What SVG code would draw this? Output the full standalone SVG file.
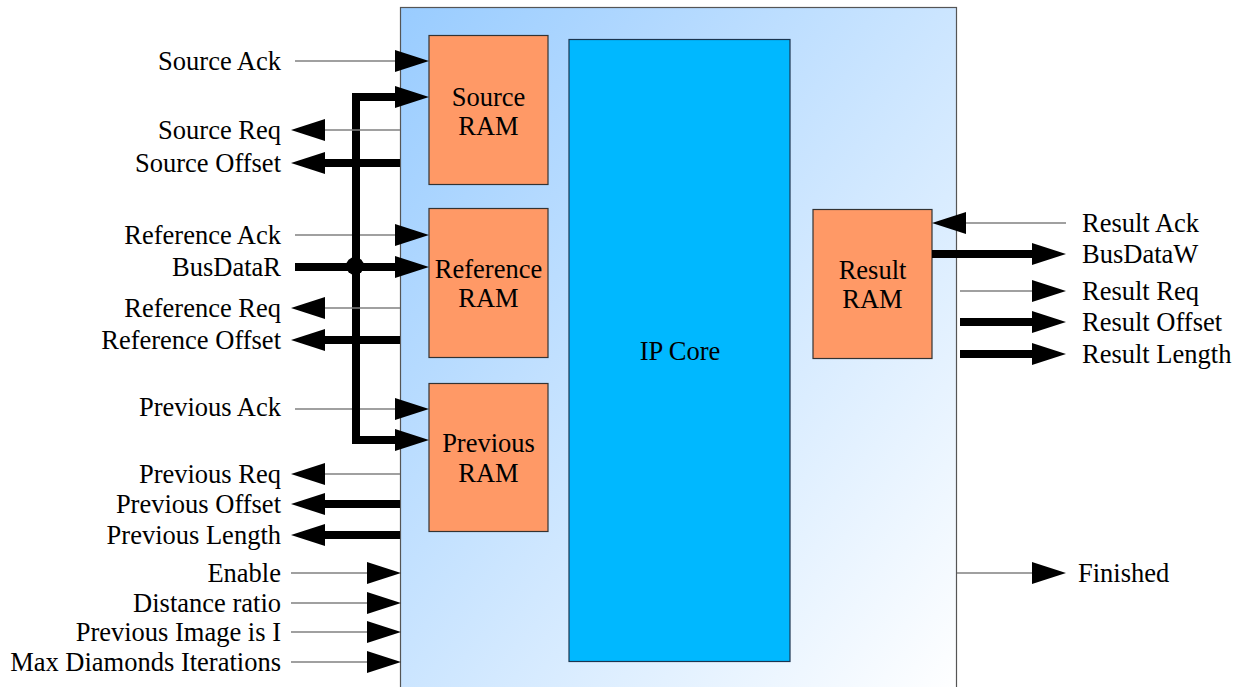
<svg xmlns="http://www.w3.org/2000/svg" width="1239" height="687" viewBox="0 0 1239 687">
  <defs>
    <linearGradient id="bg" x1="0" y1="0" x2="1" y2="1">
      <stop offset="0" stop-color="#99CCFF"/>
      <stop offset="1" stop-color="#FFFFFF"/>
    </linearGradient>
    <marker id="ah" markerUnits="userSpaceOnUse" markerWidth="34" markerHeight="24" refX="0" refY="12" orient="auto" viewBox="0 0 34 24">
      <path d="M0,1 L34,12 L0,23 Z" fill="#000"/>
    </marker>
    <style>
      .lbl { font-family: "Liberation Serif", "Times New Roman", serif; font-size: 26.5px; fill: #000; }
      .l { text-anchor: end; }
      .c { text-anchor: middle; }
      .ram { fill: #FF9966; stroke: #333; stroke-width: 1.2; }
      .thin { stroke: #808080; stroke-width: 1.5; fill: none; marker-end: url(#ah); }
      .thick { stroke: #000; stroke-width: 8; fill: none; marker-end: url(#ah); }
    </style>
  </defs>

  <rect width="1239" height="687" fill="#fff"/>

  <!-- enclosing block -->
  <g id="block">
    <rect x="400.5" y="7.5" width="556" height="690" fill="url(#bg)" stroke="#555" stroke-width="1.2"/>
  </g>

  <g id="ip-core">
    <rect x="569" y="39.5" width="221" height="622" fill="#00B8FF" stroke="#1b3550" stroke-width="1.2"/>
    <text class="lbl c" x="680" y="360">IP Core</text>
  </g>

  <g id="source-ram">
    <rect class="ram" x="429" y="35.5" width="119" height="149"/>
    <text class="lbl c" x="488.5" y="106">Source</text>
    <text class="lbl c" x="488.5" y="135">RAM</text>
  </g>

  <g id="reference-ram">
    <rect class="ram" x="429" y="208.5" width="119" height="149"/>
    <text class="lbl c" x="488.5" y="278">Reference</text>
    <text class="lbl c" x="488.5" y="307">RAM</text>
  </g>

  <g id="previous-ram">
    <rect class="ram" x="429" y="383.5" width="119" height="148"/>
    <text class="lbl c" x="488.5" y="452">Previous</text>
    <text class="lbl c" x="488.5" y="482">RAM</text>
  </g>

  <g id="result-ram">
    <rect class="ram" x="813" y="209.5" width="119" height="149"/>
    <text class="lbl c" x="872.5" y="279">Result</text>
    <text class="lbl c" x="872.5" y="308">RAM</text>
  </g>

  <!-- signal connectors -->
  <g id="connectors">
    <!-- left inputs into RAMs -->
    <path class="thin" d="M295,61 H395"/>
    <path class="thin" d="M295,235 H395"/>
    <path class="thin" d="M295,409 H395"/>
    <!-- read data bus -->
    <path class="thick" d="M295,267 H395"/>
    <path class="thick" stroke-linejoin="miter" d="M356,267 V97 H395"/>
    <path class="thick" stroke-linejoin="miter" d="M356,267 V440 H395"/>
    <circle cx="355" cy="266" r="9" fill="#000"/>
    <!-- left outputs -->
    <path class="thin" d="M400,130 H325"/>
    <path class="thick" d="M400,163 H325"/>
    <path class="thin" d="M400,308 H325"/>
    <path class="thick" d="M400,340 H325"/>
    <path class="thin" d="M400,474 H325"/>
    <path class="thick" d="M400,504 H325"/>
    <path class="thick" d="M400,535 H325"/>
    <!-- control inputs -->
    <path class="thin" d="M291,573 H367"/>
    <path class="thin" d="M291,603 H367"/>
    <path class="thin" d="M291,632 H367"/>
    <path class="thin" d="M291,662 H367"/>
    <!-- result side -->
    <path class="thin" d="M1066,223 H966"/>
    <path class="thick" d="M932,254 H1032"/>
    <path class="thin" d="M960,291 H1032"/>
    <path class="thick" d="M960,322 H1032"/>
    <path class="thick" d="M960,354 H1032"/>
    <path class="thin" d="M957,573 H1032"/>
  </g>

  <!-- signal labels -->
  <g id="labels">
    <text class="lbl l" x="281" y="70">Source Ack</text>
    <text class="lbl l" x="281" y="139">Source Req</text>
    <text class="lbl l" x="281" y="172">Source Offset</text>
    <text class="lbl l" x="281" y="244">Reference Ack</text>
    <text class="lbl l" x="281" y="276">BusDataR</text>
    <text class="lbl l" x="281" y="317">Reference Req</text>
    <text class="lbl l" x="281" y="349">Reference Offset</text>
    <text class="lbl l" x="281" y="416">Previous Ack</text>
    <text class="lbl l" x="281" y="483">Previous Req</text>
    <text class="lbl l" x="281" y="513">Previous Offset</text>
    <text class="lbl l" x="281" y="544">Previous Length</text>
    <text class="lbl l" x="281" y="582">Enable</text>
    <text class="lbl l" x="281" y="612">Distance ratio</text>
    <text class="lbl l" x="281" y="641">Previous Image is I</text>
    <text class="lbl l" x="281" y="671">Max Diamonds Iterations</text>
    <text class="lbl" x="1082" y="232">Result Ack</text>
    <text class="lbl" x="1082" y="263">BusDataW</text>
    <text class="lbl" x="1082" y="300">Result Req</text>
    <text class="lbl" x="1082" y="331">Result Offset</text>
    <text class="lbl" x="1082" y="363">Result Length</text>
    <text class="lbl" x="1078" y="582">Finished</text>
  </g>
</svg>
